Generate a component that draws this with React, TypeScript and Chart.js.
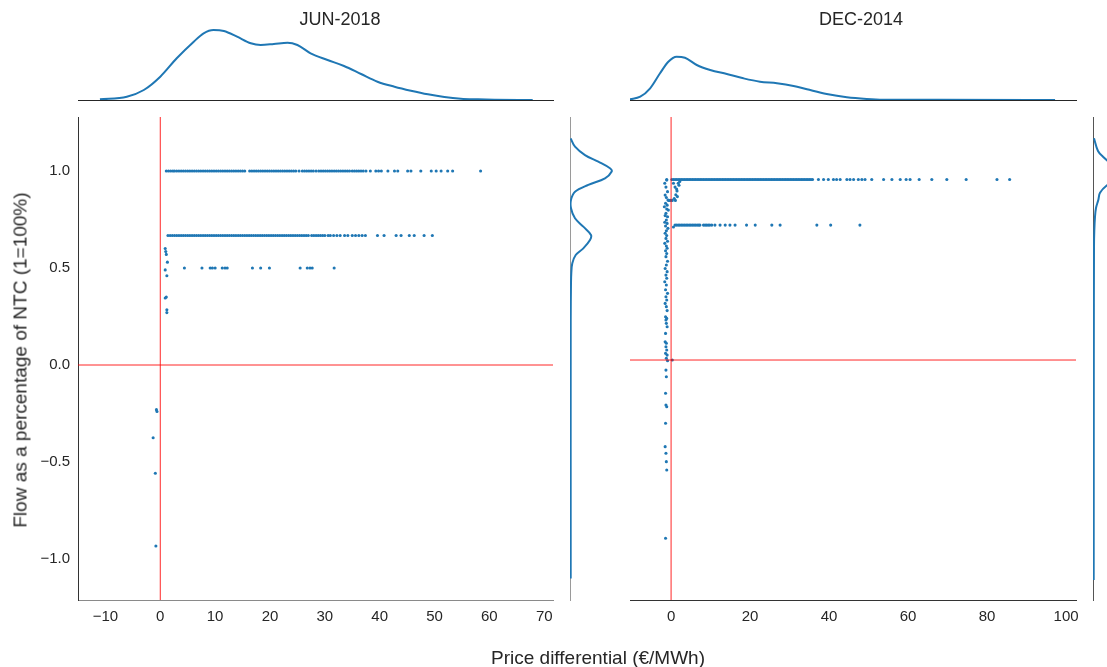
import React, { useEffect, useRef } from "react";
import { Chart, registerables } from "chart.js";

Chart.register(...registerables);

// ---------------- text ----------------
const panelTitles = ["JUN-2018", "DEC-2014"];
const xAxisLabel = "Price differential (€/MWh)";
const yAxisLabel = "Flow as a percentage of NTC (1=100%)";

// ---------------- tick labels ----------------
const junXTicks = [-10, 0, 10, 20, 30, 40, 50, 60, 70];
const decXTicks = [0, 20, 40, 60, 80, 100];
const flowYTicks = [-1.0, -0.5, 0.0, 0.5, 1.0];

// ---------------- axis ranges ----------------
const junXRange = [-15, 71.6];
const junYRange = [-1.211, 1.278];
const decXRange = [-10.4, 102.5];
const decYRange = [-1.263, 1.279];
const kdeRange = [0, 0.0375];

// ---------------- JUN-2018 scatter ----------------
const junLevelFull = 1.0;
const junFullX = [1.1, 1.5, 1.9, 2.3, 2.6, 3.0, 3.4, 3.8, 4.2, 4.6, 5.0, 5.4, 5.8, 6.2, 6.6, 7.0, 7.4, 7.8, 8.2, 8.6, 9.0, 9.4, 9.8, 10.2, 10.6, 11.0, 11.4, 11.8, 12.2, 12.6, 13.0, 13.4, 13.8, 14.2, 14.6, 15.0, 15.4, 16.3, 16.7, 17.1, 17.5, 17.9, 18.3, 18.7, 19.1, 19.5, 19.9, 20.3, 20.7, 21.1, 21.5, 21.9, 22.3, 22.7, 23.1, 23.5, 23.9, 24.3, 24.7, 25.3, 25.9, 26.3, 26.7, 27.1, 27.5, 27.9, 28.4, 28.9, 29.3, 29.7, 30.1, 30.5, 30.9, 31.3, 31.7, 32.1, 32.5, 32.9, 33.3, 33.7, 34.1, 34.5, 35.0, 35.4, 35.8, 36.2, 36.6, 37.0, 37.5, 38.3, 39.3, 39.8, 40.3, 41.5, 42.7, 43.3, 45.1, 45.7, 47.5, 49.4, 50.3, 51.2, 52.4, 53.3, 58.4];

const junLevelTwoThirds = 0.667;
const junTwoThirdsX = [1.4, 1.8, 2.2, 2.6, 3.0, 3.4, 3.8, 4.2, 4.6, 5.0, 5.4, 5.8, 6.2, 6.6, 7.0, 7.4, 7.8, 8.2, 8.6, 9.0, 9.4, 9.8, 10.2, 10.6, 11.0, 11.4, 11.8, 12.2, 12.6, 13.0, 13.4, 13.8, 14.2, 14.6, 15.0, 15.4, 15.8, 16.2, 16.6, 17.0, 17.4, 17.8, 18.2, 18.6, 19.0, 19.4, 19.8, 20.2, 20.6, 21.0, 21.4, 21.8, 22.2, 22.6, 23.0, 23.4, 23.8, 24.2, 24.6, 25.0, 25.4, 25.8, 26.2, 26.6, 27.0, 27.6, 28.0, 28.4, 28.8, 29.2, 29.6, 30.0, 30.6, 31.0, 31.6, 32.2, 32.8, 33.6, 34.2, 35.0, 35.6, 36.2, 36.8, 37.4, 39.6, 40.8, 43.0, 43.9, 45.4, 46.3, 48.1, 49.6];

const junLevelHalf = 0.5;
const junHalfX = [4.4, 7.6, 9.1, 9.5, 10.0, 11.3, 11.8, 12.2, 16.8, 18.3, 19.9, 25.5, 26.8, 27.3, 27.7, 31.7];

const junOtherX = [0.9, 1.0, 1.1, 1.3, 0.9, 1.2, 0.9, 1.1, 1.2, 1.2, -0.7, -0.6, -1.3, -0.9, -0.8];
const junOtherY = [0.6, 0.585, 0.57, 0.53, 0.49, 0.46, 0.345, 0.35, 0.285, 0.27, -0.23, -0.24, -0.375, -0.558, -0.933];

// ---------------- DEC-2014 scatter ----------------
const decLevelHigh = 0.95;
const decHighX = [0.2, 0.6, 1.0, 1.4, 1.8, 2.2, 2.6, 3.0, 3.4, 3.8, 4.2, 4.6, 5.0, 5.4, 5.8, 6.2, 6.6, 7.0, 7.4, 7.8, 8.2, 8.6, 9.0, 9.4, 9.8, 10.2, 10.6, 11.0, 11.4, 11.8, 12.2, 12.6, 13.0, 13.4, 13.8, 14.2, 14.6, 15.0, 15.4, 15.8, 16.2, 16.6, 17.0, 17.4, 17.8, 18.2, 18.6, 19.0, 19.4, 19.8, 20.2, 20.6, 21.0, 21.4, 21.8, 22.2, 22.6, 23.0, 23.4, 23.8, 24.2, 24.6, 25.0, 25.4, 25.8, 26.2, 26.6, 27.0, 27.4, 27.8, 28.2, 28.6, 29.0, 29.4, 29.8, 30.2, 30.6, 31.0, 31.4, 31.8, 32.2, 32.6, 33.0, 33.4, 33.8, 34.2, 34.6, 35.0, 35.4, 35.8, 37.3, 38.6, 39.8, 41.1, 41.9, 42.8, 44.5, 45.3, 46.2, 47.4, 48.3, 49.1, 50.8, 53.8, 55.9, 58.0, 59.5, 60.5, 62.8, 66.0, 69.8, 74.7, 82.5, 85.7];

const decLevelMid = 0.71;
const decMidX = [1.0, 1.4, 1.8, 2.2, 2.6, 3.0, 3.4, 3.8, 4.2, 4.6, 5.0, 5.4, 5.8, 6.2, 6.6, 7.0, 7.3, 8.2, 8.6, 9.0, 9.4, 9.8, 10.3, 11.1, 12.4, 13.7, 14.9, 16.2, 19.1, 21.3, 25.5, 27.6, 36.9, 40.4, 47.8];

const decColumnX = [-1.1, -1.6, -1.3, -0.9, -1.5, -1.2, -0.8, -1.4, -1.0, -1.7, -1.1, -0.7, -1.3, -1.5, -0.9, -1.2, -1.6, -1.0, -1.4, -0.8, -1.2, -1.5, -1.1, -1.3, -0.9, -1.6, -1.2, -1.0, -1.4, -1.1, -1.3, -0.9, -1.2, -1.5, -1.0, -1.3, -1.1, -1.6, -1.2, -1.4, -0.9, -1.3, -1.1, -1.5, -1.2, -1.0, -1.4, -1.1, -1.3, -1.2, -1.0, -1.4, -1.5, -1.2, -1.3, -1.1, -1.4, -1.0, -1.2, -0.9, -1.3, -1.2, -1.4, -1.3, -1.1, -1.4, -1.5, -1.3, -1.2, -1.1, -1.4];
const decColumnY = [0.947, 0.93, 0.91, 0.886, 0.868, 0.855, 0.842, 0.825, 0.815, 0.807, 0.795, 0.789, 0.772, 0.76, 0.754, 0.737, 0.725, 0.719, 0.705, 0.693, 0.68, 0.667, 0.655, 0.64, 0.625, 0.614, 0.6, 0.588, 0.575, 0.561, 0.544, 0.52, 0.5, 0.482, 0.465, 0.447, 0.43, 0.412, 0.395, 0.37, 0.351, 0.333, 0.316, 0.298, 0.281, 0.26, 0.228, 0.219, 0.211, 0.193, 0.175, 0.14, 0.096, 0.088, 0.07, 0.053, 0.035, 0.026, 0.009, -0.004, -0.053, -0.088, -0.175, -0.237, -0.246, -0.333, -0.456, -0.491, -0.535, -0.579, -0.938];

const decClusterX = [-1.1, 0.6, 1.0, 1.4, 1.8, 2.0, 1.2, 1.6, 0.8, 1.1, 0.3, -0.2, -0.6, 1.5, 2.2, 0.6, 0.3];
const decClusterY = [0.95, 0.93, 0.91, 0.9, 0.93, 0.92, 0.87, 0.86, 0.85, 0.84, 0.84, 0.84, 0.84, 0.89, 0.94, 0.7, 0.0];

// ---------------- marginal KDE curves ----------------
const junTopX = [-11.0, -6.1, -3.0, 0.0, 3.0, 6.1, 7.9, 9.7, 11.6, 14.0, 16.5, 18.3, 20.7, 23.2, 25.0, 27.4, 30.5, 33.5, 36.6, 39.6, 42.7, 45.7, 48.8, 51.8, 54.8, 57.9, 60.9, 67.9];
const junTopDensity = [0.00035, 0.00165, 0.005, 0.01165, 0.02085, 0.02915, 0.03335, 0.035, 0.0345, 0.03165, 0.02835, 0.0275, 0.028, 0.02865, 0.0275, 0.02335, 0.02, 0.017, 0.013, 0.00915, 0.00665, 0.00465, 0.00285, 0.0015, 0.00065, 0.00035, 0.00015, 0.0];

const decTopX = [-10.5, -7.8, -5.3, -2.8, -0.7, 1.4, 3.5, 6.5, 9.9, 14.1, 18.3, 22.5, 26.8, 31.0, 34.4, 39.4, 44.5, 49.5, 53.7, 66.4, 97.2];
const decTopDensity = [0.00035, 0.00165, 0.00585, 0.01335, 0.01915, 0.02165, 0.02115, 0.0175, 0.015, 0.013, 0.01085, 0.00915, 0.00835, 0.007, 0.00535, 0.003, 0.00135, 0.0005, 0.00015, 0.0001, 0.0];

const junSideY = [1.168, 1.125, 1.082, 1.048, 1.014, 0.997, 0.962, 0.928, 0.893, 0.851, 0.808, 0.756, 0.713, 0.67, 0.644, 0.601, 0.567, 0.524, 0.473, 0.421, 0.232, -1.1];
const junSideDensity = [0.00033, 0.0025, 0.0075, 0.01415, 0.02, 0.02085, 0.0175, 0.00915, 0.0025, 0.0005, 0.0005, 0.0025, 0.00665, 0.0105, 0.01, 0.00665, 0.00285, 0.00115, 0.00065, 0.0005, 0.00035, 0.00035];

const decSideY = [1.167, 1.1, 1.07, 1.04, 1.0, 0.97, 0.94, 0.92, 0.88, 0.842, 0.8, 0.754, 0.68, 0.596, 0.0, -1.158];
const decSideDensity = [0.0005, 0.0025, 0.005, 0.0085, 0.02, 0.0225, 0.011, 0.007, 0.0035, 0.00265, 0.0015, 0.001, 0.00065, 0.0005, 0.0004, 0.00035];

// ---------------- styling / layout ----------------
const FONT = "'Liberation Sans', Arial, Helvetica, sans-serif";
const BLUE = "#1f77b4";
const RED = "rgba(255,0,0,0.85)";
const TEXT = "#262626";
const W = 1107;
const H = 667;
const Y_AXIS_W = 60;
const X_AXIS_H = 40;

type Box = { l: number; t: number; r: number; b: number };
const junMainBox: Box = { l: 78, t: 117, r: 553, b: 600 };
const junTopBox: Box = { l: 78, t: 25, r: 553, b: 100 };
const junSideBox: Box = { l: 570, t: 117, r: 645, b: 600 };
const decMainBox: Box = { l: 630, t: 117, r: 1076, b: 600 };
const decTopBox: Box = { l: 630, t: 25, r: 1076, b: 100 };
const decSideBox: Box = { l: 1093, t: 117, r: 1168, b: 600 };
const SIDE_CANVAS_W = 1200;

const pairs = (xs: number[], ys: number[]) => xs.map((x, i) => ({ x, y: ys[i] }));
const atLevel = (xs: number[], y: number) => xs.map((x) => ({ x, y }));
const minus = (s: string) => s.replace("-", "\u2212");
const fmtInt = (v: any) => minus(String(v));
const fmtOne = (v: any) => minus(Number(v).toFixed(1));

const baseOptions = (padding: any) => ({
  responsive: false,
  animation: false as const,
  devicePixelRatio: 1,
  events: [] as any[],
  layout: { padding },
  plugins: { legend: { display: false }, tooltip: { enabled: false }, title: { display: false } },
});

function tickAxis(range: number[], ticks: number[], fmt: (v: any) => string, borderColor: string, isX: boolean) {
  return {
    type: "linear" as const,
    min: range[0],
    max: range[1],
    grid: { display: false, drawTicks: false },
    border: { display: true, color: borderColor, width: 1 },
    ticks: { font: { family: FONT, size: 15 }, color: TEXT, padding: 8, autoSkip: false, maxRotation: 0, callback: fmt },
    afterBuildTicks: (axis: any) => {
      axis.ticks = ticks.map((v) => ({ value: v }));
    },
    afterFit: (axis: any) => {
      if (isX) axis.height = X_AXIS_H;
      else axis.width = Y_AXIS_W;
    },
  };
}

function hiddenAxis(range: number[]) {
  return { type: "linear" as const, display: false, min: range[0], max: range[1] };
}

function spineAxis(range: number[], color: string, isX: boolean) {
  return {
    type: "linear" as const,
    min: range[0],
    max: range[1],
    grid: { display: false, drawTicks: false },
    border: { display: true, color, width: 1 },
    ticks: { display: false },
    afterFit: (axis: any) => {
      if (isX) axis.height = 0;
      else axis.width = 0;
    },
  };
}

function redLines(xr: number[], yr: number[]) {
  return [
    { type: "line" as const, data: [{ x: 0, y: yr[0] }, { x: 0, y: yr[1] }], borderColor: RED, borderWidth: 1, pointRadius: 0 },
    { type: "line" as const, data: [{ x: xr[0], y: 0 }, { x: xr[1], y: 0 }], borderColor: RED, borderWidth: 1, pointRadius: 0 },
  ];
}

const dots = (data: any[]) => ({
  type: "scatter" as const,
  data,
  backgroundColor: BLUE,
  borderColor: BLUE,
  borderWidth: 0,
  pointRadius: 1.55,
});

const buildJunMain = () => ({
  type: "scatter" as const,
  data: {
    datasets: [
      ...redLines(junXRange, junYRange),
      dots([
        ...atLevel(junFullX, junLevelFull),
        ...atLevel(junTwoThirdsX, junLevelTwoThirds),
        ...atLevel(junHalfX, junLevelHalf),
        ...pairs(junOtherX, junOtherY),
      ]),
    ],
  },
  options: {
    ...baseOptions({ left: junMainBox.l - Y_AXIS_W, top: junMainBox.t, right: W - junMainBox.r, bottom: H - junMainBox.b - X_AXIS_H }),
    scales: {
      x: tickAxis(junXRange, junXTicks, fmtInt, "#8a8a8a", true),
      y: tickAxis(junYRange, flowYTicks, fmtOne, "#333333", false),
    },
  },
});

const buildDecMain = () => ({
  type: "scatter" as const,
  data: {
    datasets: [
      ...redLines(decXRange, decYRange),
      dots([
        ...atLevel(decHighX, decLevelHigh),
        ...atLevel(decMidX, decLevelMid),
        ...pairs(decColumnX, decColumnY),
        ...pairs(decClusterX, decClusterY),
      ]),
    ],
  },
  options: {
    ...baseOptions({ left: decMainBox.l, top: decMainBox.t, right: W - decMainBox.r, bottom: H - decMainBox.b - X_AXIS_H }),
    scales: {
      x: tickAxis(decXRange, decXTicks, fmtInt, "#333333", true),
      y: hiddenAxis(decYRange),
    },
  },
});

const kdeLine = (data: any[], monotone: boolean) => ({
  data,
  borderColor: BLUE,
  borderWidth: 2,
  pointRadius: 0,
  fill: false,
  ...(monotone ? { cubicInterpolationMode: "monotone" as const } : { tension: 0.35 }),
});

const buildTop = (box: Box, xr: number[], xs: number[], ds: number[]) => () => ({
  type: "line" as const,
  data: { datasets: [kdeLine(pairs(xs, ds), true)] },
  options: {
    ...baseOptions({ left: box.l, top: box.t, right: W - box.r, bottom: H - box.b }),
    scales: { x: spineAxis(xr, "#262626", true), y: hiddenAxis(kdeRange) },
  },
});

const buildSide = (box: Box, cw: number, yr: number[], ys: number[], ds: number[], color: string) => () => ({
  type: "line" as const,
  data: { datasets: [kdeLine(pairs(ds, ys), false)] },
  options: {
    ...baseOptions({ left: box.l, top: box.t, right: cw - box.r, bottom: H - box.b }),
    scales: { x: hiddenAxis(kdeRange), y: spineAxis(yr, color, false) },
  },
});

const buildJunTop = buildTop(junTopBox, junXRange, junTopX, junTopDensity);
const buildDecTop = buildTop(decTopBox, decXRange, decTopX, decTopDensity);
const buildJunSide = buildSide(junSideBox, W, junYRange, junSideY, junSideDensity, "#9a9a9a");
const buildDecSide = buildSide(decSideBox, SIDE_CANVAS_W, decYRange, decSideY, decSideDensity, "#555555");

function ChartLayer({ w, h, build }: { w: number; h: number; build: () => any }) {
  const ref = useRef<HTMLCanvasElement | null>(null);
  useEffect(() => {
    if (!ref.current) return;
    const chart = new Chart(ref.current, build());
    return () => chart.destroy();
  }, [build]);
  return (
    <canvas
      ref={ref}
      width={w}
      height={h}
      style={{ position: "absolute", left: 0, top: 0, width: w, height: h }}
    />
  );
}

const labelStyle = (x: number, y: number, size: number, rotate = 0): React.CSSProperties => ({
  position: "absolute",
  left: x,
  top: y,
  transform: `translate(-50%, -50%)${rotate ? ` rotate(${rotate}deg)` : ""}`,
  fontFamily: FONT,
  fontSize: size,
  color: TEXT,
  whiteSpace: "nowrap",
  lineHeight: 1,
});

export default function App() {
  return (
    <div
      style={{
        position: "fixed",
        left: 0,
        top: 0,
        width: W,
        height: H,
        overflow: "hidden",
        background: "#ffffff",
      }}
    >
      <ChartLayer w={W} h={H} build={buildJunTop} />
      <ChartLayer w={W} h={H} build={buildDecTop} />
      <ChartLayer w={W} h={H} build={buildJunSide} />
      <ChartLayer w={SIDE_CANVAS_W} h={H} build={buildDecSide} />
      <ChartLayer w={W} h={H} build={buildJunMain} />
      <ChartLayer w={W} h={H} build={buildDecMain} />
      <div style={labelStyle(340, 19, 18)}>{panelTitles[0]}</div>
      <div style={labelStyle(861, 19, 18)}>{panelTitles[1]}</div>
      <div style={labelStyle(598, 657, 19)}>{xAxisLabel}</div>
      <div style={labelStyle(20, 360, 19, -90)}>{yAxisLabel}</div>
    </div>
  );
}
